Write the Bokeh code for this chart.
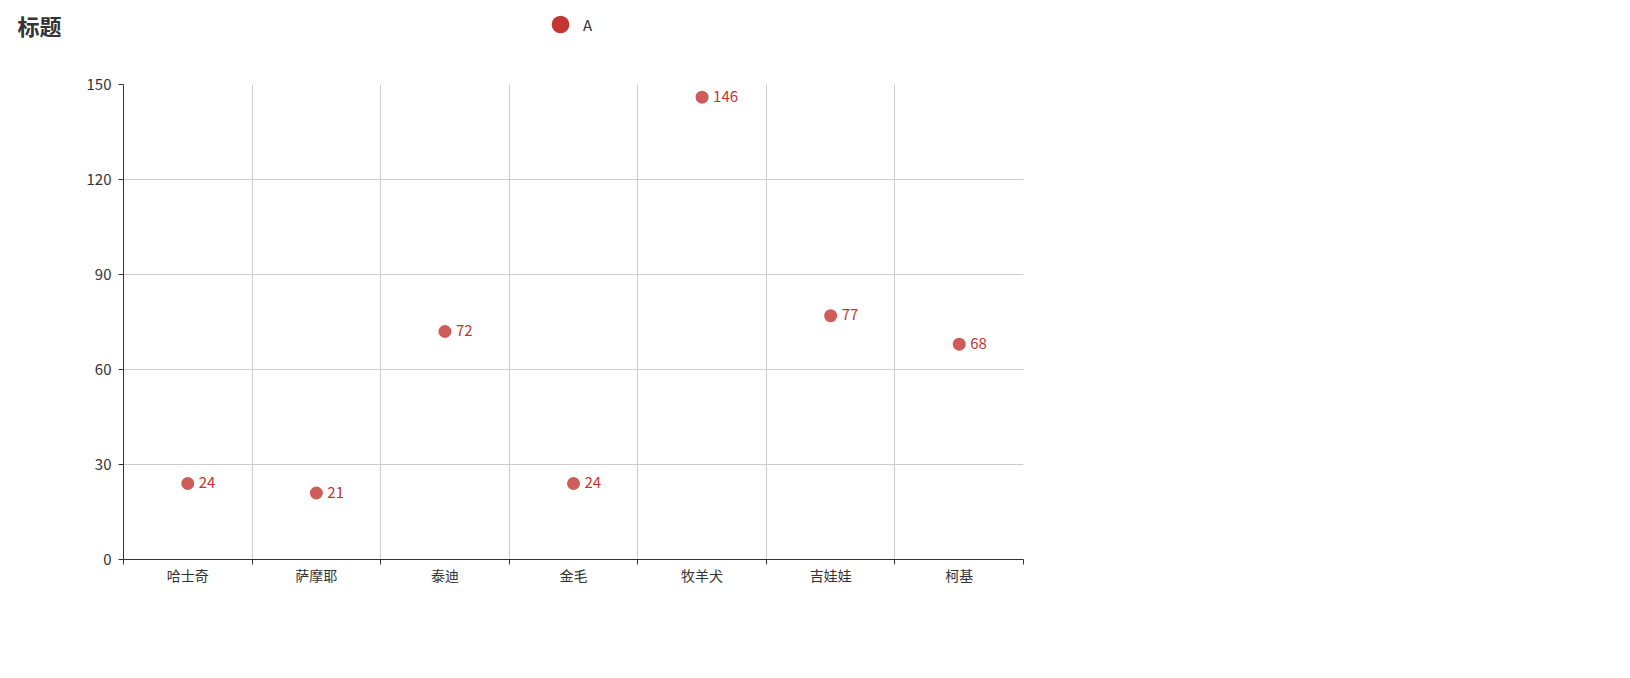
from bokeh.plotting import figure
from bokeh.layouts import column
from bokeh.models import Range1d, FixedTicker, Label, Legend, LegendItem, ColumnDataSource
from bokeh.core.properties import value
from bokeh.embed import file_html
from bokeh.resources import INLINE

title_text = "标题"
series_name = "A"
categories = ["哈士奇", "萨摩耶", "泰迪", "金毛", "牧羊犬", "吉娃娃", "柯基"]
values = [24, 21, 72, 24, 146, 77, 68]
y_ticks = [0, 30, 60, 90, 120, 150]

FONT = "Noto Sans CJK SC"
RED = "#c23531"
TXT = "#333333"
W = 1614
HEAD_H = 50

xs = [i + 0.5 for i in range(len(categories))]
src = ColumnDataSource(dict(x=xs, y=values, label=[str(v) for v in values]))

# ---------- header: title + legend ----------
head = figure(width=W, height=HEAD_H, output_backend="svg", toolbar_location=None,
              x_axis_location=None, y_axis_location=None,
              x_range=Range1d(0, 1), y_range=Range1d(-1, 0), min_border=0)
head.frame_align = False
head.outline_line_color = None
head.xgrid.visible = False
head.ygrid.visible = False
head.add_layout(Label(x=17, y=HEAD_H - 24, x_units="screen", y_units="screen", text=title_text,
                      text_font=FONT, text_font_size="22px", text_font_style="bold",
                      text_color=TXT, text_baseline="middle"))
# legend swatch renderer (its points lie outside the header's visible range)
swatch = head.scatter("x", "y", source=src, size=18, fill_color=RED, line_color=None)
legend = Legend(items=[LegendItem(label=series_name, renderers=[swatch], index=0)],
                location=(560 - 22, HEAD_H - 24 - 22), glyph_width=44, glyph_height=44,
                label_standoff=1, padding=0, margin=0, border_line_color=None,
                background_fill_alpha=0, label_text_font=FONT,
                label_text_font_size="15px", label_text_color=TXT)
head.add_layout(legend, "center")

# ---------- main chart ----------
top = 84 - HEAD_H
p = figure(width=W, height=660 - HEAD_H, output_backend="svg", toolbar_location=None,
           x_range=Range1d(0, len(categories)), y_range=Range1d(0, 150),
           min_border_left=123, min_border_top=top, min_border_right=W - 123 - 900,
           min_border_bottom=660 - HEAD_H - top - 475)
p.frame_align = False
p.outline_line_color = None

# x axis
p.xaxis.ticker = FixedTicker(ticks=xs, minor_ticks=list(range(len(categories) + 1)))
p.xaxis.major_label_overrides = {x: c for x, c in zip(xs, categories)}
p.xaxis.major_tick_out = 0
p.xaxis.major_tick_in = 0
p.xaxis.minor_tick_out = 5
p.xaxis.minor_tick_in = 0
p.xaxis.minor_tick_line_color = TXT
p.xaxis.axis_line_color = TXT
p.xaxis.major_label_text_font = FONT
p.xaxis.major_label_text_font_size = "14px"
p.xaxis.major_label_text_color = TXT
p.xaxis.major_label_standoff = 0

# y axis
p.yaxis.ticker = FixedTicker(ticks=y_ticks)
p.yaxis.major_tick_out = 5
p.yaxis.major_tick_in = 0
p.yaxis.minor_tick_out = 0
p.yaxis.minor_tick_in = 0
p.yaxis.axis_line_color = TXT
p.yaxis.major_tick_line_color = TXT
p.yaxis.major_label_text_font = FONT
p.yaxis.major_label_text_font_size = "15px"
p.yaxis.major_label_text_color = TXT
p.yaxis.major_label_standoff = 7

# grids
p.xgrid.ticker = FixedTicker(ticks=list(range(len(categories) + 1)))
p.xgrid.grid_line_color = "#cccccc"
p.ygrid.ticker = FixedTicker(ticks=y_ticks)
p.ygrid.grid_line_color = "#cccccc"

# points and labels
p.scatter("x", "y", source=src, size=13, fill_color=RED, fill_alpha=0.8, line_color=None)
p.text("x", "y", text="label", source=src, x_offset=11, y_offset=-1, text_baseline="middle",
       text_align="left", text_font=value(FONT), text_font_size="15px", text_color=RED)

layout = column(head, p, spacing=0)
open("out.html", "w").write(file_html(layout, INLINE))
